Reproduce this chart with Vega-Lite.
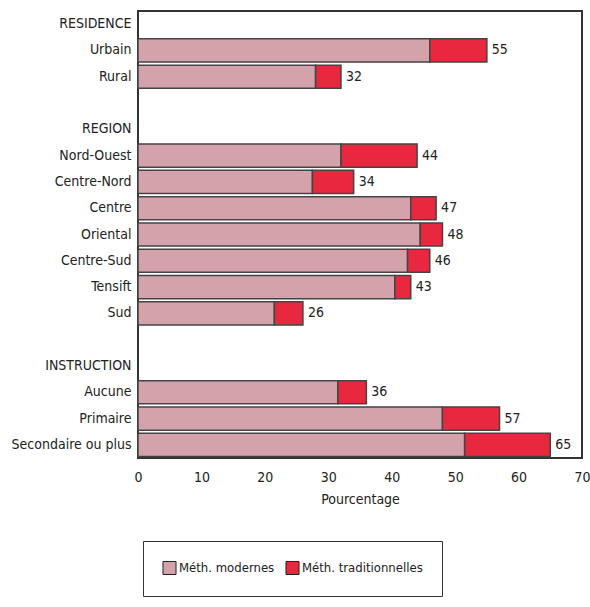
{
  "$schema": "https://vega.github.io/schema/vega-lite/v6.json",
  "width": 444,
  "height": 447,
  "autosize": {"type": "none"},
  "padding": {"left": 138, "top": 11, "right": 8, "bottom": 149},
  "background": "white",
  "config": {
    "font": "DejaVu Sans Condensed",
    "view": {"stroke": "#333", "strokeWidth": 2},
    "axis": {"labelFont": "DejaVu Sans Condensed", "titleFont": "DejaVu Sans Condensed", "labelColor": "#222", "titleColor": "#222"},
    "legend": {"labelFont": "DejaVu Sans Condensed"}
  },
  "datasets": {
    "bars": [
      {"categorie": "Urbain", "methode": "Méth. modernes", "valeur": 46},
      {"categorie": "Urbain", "methode": "Méth. traditionnelles", "valeur": 9},
      {"categorie": "Rural", "methode": "Méth. modernes", "valeur": 28},
      {"categorie": "Rural", "methode": "Méth. traditionnelles", "valeur": 4},
      {"categorie": "Nord-Ouest", "methode": "Méth. modernes", "valeur": 32},
      {"categorie": "Nord-Ouest", "methode": "Méth. traditionnelles", "valeur": 12},
      {"categorie": "Centre-Nord", "methode": "Méth. modernes", "valeur": 27.5},
      {"categorie": "Centre-Nord", "methode": "Méth. traditionnelles", "valeur": 6.5},
      {"categorie": "Centre", "methode": "Méth. modernes", "valeur": 43},
      {"categorie": "Centre", "methode": "Méth. traditionnelles", "valeur": 4},
      {"categorie": "Oriental", "methode": "Méth. modernes", "valeur": 44.5},
      {"categorie": "Oriental", "methode": "Méth. traditionnelles", "valeur": 3.5},
      {"categorie": "Centre-Sud", "methode": "Méth. modernes", "valeur": 42.5},
      {"categorie": "Centre-Sud", "methode": "Méth. traditionnelles", "valeur": 3.5},
      {"categorie": "Tensift", "methode": "Méth. modernes", "valeur": 40.5},
      {"categorie": "Tensift", "methode": "Méth. traditionnelles", "valeur": 2.5},
      {"categorie": "Sud", "methode": "Méth. modernes", "valeur": 21.5},
      {"categorie": "Sud", "methode": "Méth. traditionnelles", "valeur": 4.5},
      {"categorie": "Aucune", "methode": "Méth. modernes", "valeur": 31.5},
      {"categorie": "Aucune", "methode": "Méth. traditionnelles", "valeur": 4.5},
      {"categorie": "Primaire", "methode": "Méth. modernes", "valeur": 48},
      {"categorie": "Primaire", "methode": "Méth. traditionnelles", "valeur": 9},
      {"categorie": "Secondaire ou plus", "methode": "Méth. modernes", "valeur": 51.5},
      {"categorie": "Secondaire ou plus", "methode": "Méth. traditionnelles", "valeur": 13.5}
    ],
    "totaux": [
      {"categorie": "Urbain", "total": 55},
      {"categorie": "Rural", "total": 32},
      {"categorie": "Nord-Ouest", "total": 44},
      {"categorie": "Centre-Nord", "total": 34},
      {"categorie": "Centre", "total": 47},
      {"categorie": "Oriental", "total": 48},
      {"categorie": "Centre-Sud", "total": 46},
      {"categorie": "Tensift", "total": 43},
      {"categorie": "Sud", "total": 26},
      {"categorie": "Aucune", "total": 36},
      {"categorie": "Primaire", "total": 57},
      {"categorie": "Secondaire ou plus", "total": 65}
    ]
  },
  "encoding": {
    "y": {
      "field": "categorie",
      "type": "nominal",
      "sort": null,
      "scale": {
        "domain": ["RESIDENCE", "Urbain", "Rural", " ", "REGION", "Nord-Ouest", "Centre-Nord", "Centre", "Oriental", "Centre-Sud", "Tensift", "Sud", "  ", "INSTRUCTION", "Aucune", "Primaire", "Secondaire ou plus"],
        "paddingInner": 0.12,
        "paddingOuter": 0.06
      },
      "axis": {"title": null, "ticks": false, "domain": false, "labelFontSize": 14, "labelPadding": 7, "labelLimit": 200}
    }
  },
  "layer": [
    {
      "data": {"name": "bars"},
      "mark": {"type": "bar", "stroke": "#444", "strokeWidth": 1.5},
      "encoding": {
        "x": {
          "field": "valeur",
          "type": "quantitative",
          "stack": "zero",
          "scale": {"domain": [0, 70], "nice": false},
          "axis": {"title": "Pourcentage", "values": [0, 10, 20, 30, 40, 50, 60, 70], "grid": false, "ticks": false, "domain": false, "labelFontSize": 14, "labelPadding": 12, "titleFontSize": 14, "titleFontWeight": "normal", "titlePadding": 8, "labelFlush": false}
        },
        "color": {
          "field": "methode",
          "type": "nominal",
          "scale": {"domain": ["Méth. modernes", "Méth. traditionnelles"], "range": ["#d4a2ab", "#e8283f"]},
          "legend": {
            "title": null,
            "orient": "none",
            "direction": "horizontal",
            "legendX": 5,
            "legendY": 530,
            "symbolType": "square",
            "symbolSize": 170,
            "symbolStrokeColor": "#222",
            "symbolStrokeWidth": 1,
            "labelFontSize": 13,
            "labelColor": "#222",
            "labelOffset": 2,
            "columnPadding": 8,
            "padding": 19,
            "fillColor": "white",
            "strokeColor": "#333",
            "cornerRadius": 0
          }
        }
      }
    },
    {
      "data": {"name": "totaux"},
      "mark": {"type": "text", "align": "left", "dx": 5, "fontSize": 14, "color": "#222", "font": "DejaVu Sans Condensed"},
      "encoding": {
        "x": {"field": "total", "type": "quantitative"},
        "text": {"field": "total", "type": "quantitative"}
      }
    }
  ]
}
